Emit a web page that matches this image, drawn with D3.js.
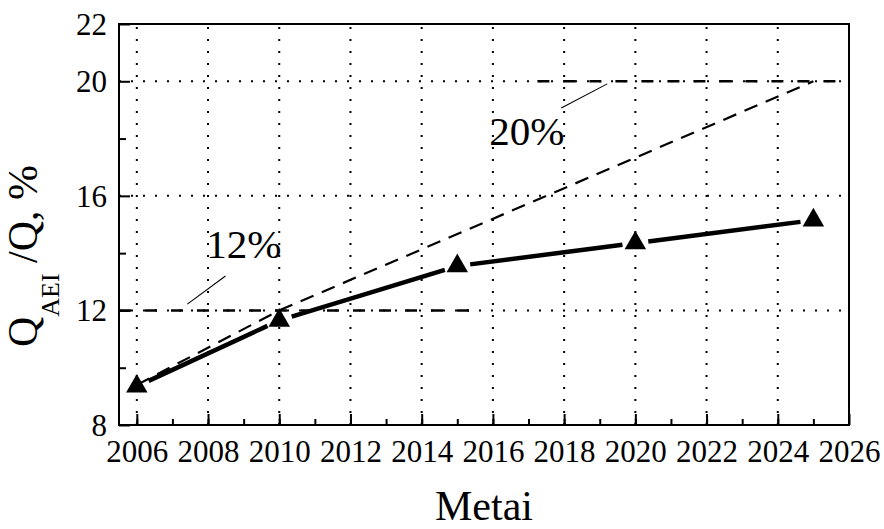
<!DOCTYPE html>
<html>
<head>
<meta charset="utf-8">
<script src="https://cdn.jsdelivr.net/npm/d3@7"></script>
<style>
  html, body { margin: 0; padding: 0; background: #fff; }
  svg { display: block; }
</style>
</head>
<body>
<svg id="chart" width="884" height="529"></svg>
<script>
// ---- data ----
const years = [2006, 2010, 2015, 2020, 2025];
const shareValues = [9.35, 11.65, 13.55, 14.35, 15.15];

const targetYears = [2006, 2010, 2025];
const targetValues = [9.4, 12, 20];

const refLevels = [12, 20];
const refStartYears = [2005.5, 2017.25];
const refEndYears = [2015.5, 2026];

const xTickLabels = [2006, 2008, 2010, 2012, 2014, 2016, 2018, 2020, 2022, 2024, 2026];
const yTickLabels = [8, 12, 16, 20, 22];
const yMinorTicks = [10, 14, 18];
const yGridValues = [12, 16, 20];
const xGridValues = [2006, 2008, 2010, 2012, 2014, 2016, 2018, 2020, 2022, 2024];

const annotationLabels = ["12%", "20%"];
const annotationTextPos = [[2007.95, 13.83], [2015.9, 17.78]];
const annotationLeaders = [[[2007.42, 12.22], [2008.49, 13.2]], [[2017.92, 19.07], [2019.21, 19.91]]];

// ---- layout ----
const FONT = "'Liberation Serif', 'Times New Roman', Times, serif";
const W = 884, H = 529;
const m = { left: 119, right: 35, top: 24, bottom: 104 };
const svg = d3.select("#chart");

const x = d3.scaleLinear().domain([2005.5, 2026]).range([m.left, W - m.right]);
const y = d3.scaleLinear().domain([8, 22]).range([H - m.bottom, m.top]);

const g = svg.append("g");

// grid
g.append("g").selectAll("line").data(yGridValues).join("line")
  .attr("x1", x.range()[0]).attr("x2", x.range()[1])
  .attr("y1", d => y(d)).attr("y2", d => y(d))
  .attr("stroke", "#000").attr("stroke-width", 2).attr("stroke-dasharray", "2,10");
g.append("g").selectAll("line").data(xGridValues).join("line")
  .attr("x1", d => x(d)).attr("x2", d => x(d))
  .attr("y1", y.range()[0]).attr("y2", y.range()[1])
  .attr("stroke", "#000").attr("stroke-width", 2).attr("stroke-dasharray", "2,10");

// reference dash lines (12%, 20%)
g.append("g").selectAll("line").data(refLevels).join("line")
  .attr("x1", (d, i) => x(refStartYears[i])).attr("x2", (d, i) => x(refEndYears[i]))
  .attr("y1", d => y(d)).attr("y2", d => y(d))
  .attr("stroke", "#000").attr("stroke-width", 2.5).attr("stroke-dasharray", "12,14");

// target dashed line
const targetPts = targetYears.map((t, i) => [t, targetValues[i]]);
g.append("path")
  .datum(targetPts)
  .attr("d", d3.line().x(d => x(d[0])).y(d => y(d[1])))
  .attr("fill", "none").attr("stroke", "#000").attr("stroke-width", 2.2)
  .attr("stroke-dasharray", "14,9");

// data line with gaps around markers
const pts = years.map((t, i) => [x(t), y(shareValues[i])]);
const gap = 13;
const segs = d3.pairs(pts).map(([a, b]) => {
  const dx = b[0] - a[0], dy = b[1] - a[1], L = Math.hypot(dx, dy);
  const ux = dx / L, uy = dy / L;
  return [[a[0] + ux * gap, a[1] + uy * gap], [b[0] - ux * gap, b[1] - uy * gap]];
});
g.append("g").selectAll("path").data(segs).join("path")
  .attr("d", d3.line())
  .attr("fill", "none").attr("stroke", "#000").attr("stroke-width", 4.5);

// markers
g.append("g").selectAll("path").data(pts).join("path")
  .attr("transform", d => `translate(${d[0]},${d[1]})`)
  .attr("d", d3.symbol(d3.symbolTriangle, 200)())
  .attr("fill", "#000");

// annotations
g.append("g").selectAll("line").data(annotationLeaders).join("line")
  .attr("x1", d => x(d[0][0])).attr("y1", d => y(d[0][1]))
  .attr("x2", d => x(d[1][0])).attr("y2", d => y(d[1][1]))
  .attr("stroke", "#000").attr("stroke-width", 1.1);
g.append("g").selectAll("text").data(annotationLabels).join("text")
  .attr("x", (d, i) => x(annotationTextPos[i][0]))
  .attr("y", (d, i) => y(annotationTextPos[i][1]))
  .style("font-family", FONT).style("font-size", "41px").attr("fill", "#000")
  .text(d => d);

// axes (inward ticks)
const xAxisMajor = d3.axisBottom(x).tickValues(xTickLabels).tickSize(-11).tickPadding(15)
  .tickFormat(d3.format("d"));
const xAxisMinor = d3.axisBottom(x).tickValues(d3.range(2006, 2026)).tickSize(-6).tickFormat("");
const gx = g.append("g").attr("transform", `translate(0,${y.range()[0]})`).call(xAxisMinor);
const gx2 = g.append("g").attr("transform", `translate(0,${y.range()[0]})`).call(xAxisMajor);
[gx, gx2].forEach(a => { a.select(".domain").remove(); a.selectAll(".tick line").attr("stroke-width", 2); });
gx2.selectAll(".tick text").style("font-family", FONT).style("font-size", "31px").attr("fill", "#000").attr("dy", "0.71em");

const yAxisMajor = d3.axisLeft(y).tickValues(yTickLabels).tickSize(-11).tickPadding(12);
const yAxisMinor = d3.axisLeft(y).tickValues(yMinorTicks).tickSize(-7).tickFormat("");
const gy = g.append("g").attr("transform", `translate(${x.range()[0]},0)`).call(yAxisMinor);
const gy2 = g.append("g").attr("transform", `translate(${x.range()[0]},0)`).call(yAxisMajor);
[gy, gy2].forEach(a => { a.select(".domain").remove(); a.selectAll(".tick line").attr("stroke-width", 2); });
gy2.selectAll(".tick text").style("font-family", FONT).style("font-size", "31px").attr("fill", "#000").attr("dy", "0.33em");

// frame
g.append("rect")
  .attr("x", x.range()[0]).attr("y", y.range()[1])
  .attr("width", x.range()[1] - x.range()[0]).attr("height", y.range()[0] - y.range()[1])
  .attr("fill", "none").attr("stroke", "#000").attr("stroke-width", 2);

// axis titles
svg.append("text")
  .attr("x", (x.range()[0] + x.range()[1]) / 2).attr("y", 520)
  .attr("text-anchor", "middle")
  .style("font-family", FONT).style("font-size", "42px").attr("fill", "#000")
  .text("Metai");

const yt = svg.append("text")
  .attr("transform", "translate(37,256) rotate(-90)")
  .attr("text-anchor", "middle")
  .style("font-family", FONT).style("font-size", "42px").attr("fill", "#000");
yt.append("tspan").text("Q");
yt.append("tspan").style("font-size", "26px").attr("dy", 22).text("AEI");
yt.append("tspan").attr("dy", -22).text(" /Q, %");
</script>
</body>
</html>
